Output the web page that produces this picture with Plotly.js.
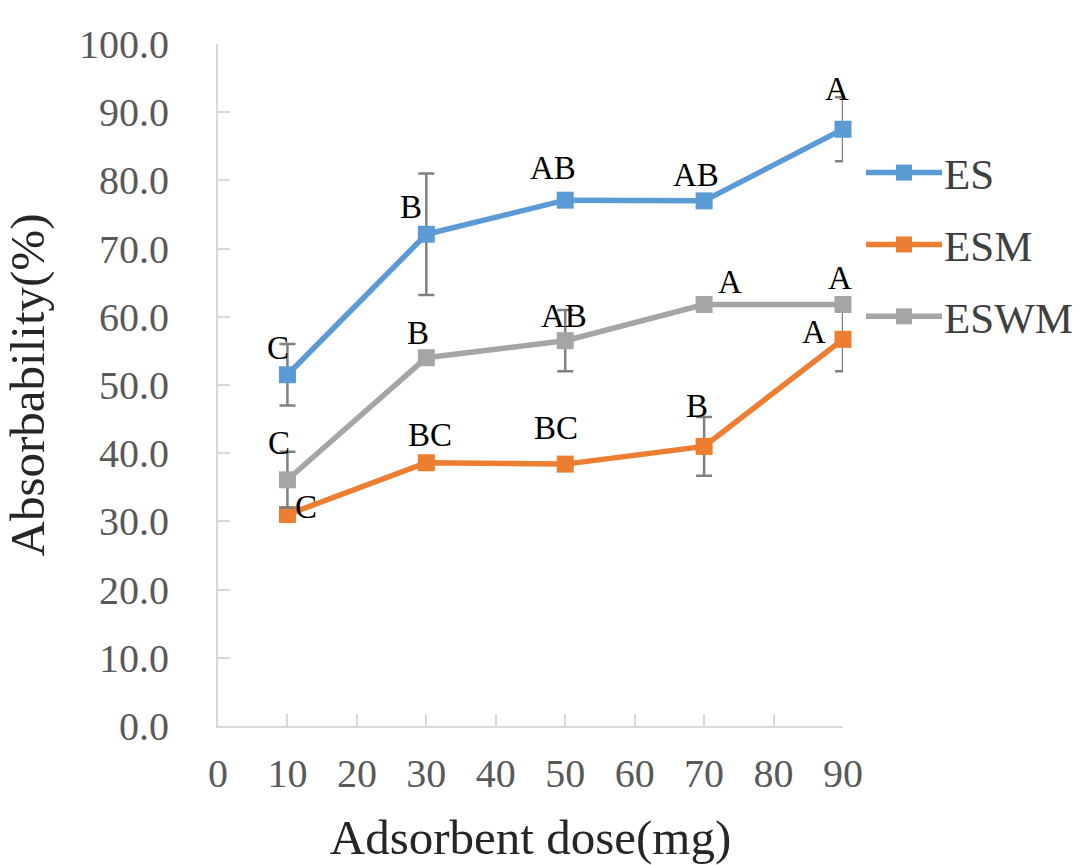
<!DOCTYPE html>
<html>
<head>
<meta charset="utf-8">
<script src="https://cdn.plot.ly/plotly-3.0.1.min.js"></script>
<style>html,body{margin:0;padding:0;background:#fff}#chart{width:1079px;height:865px}</style>
</head>
<body>
<div id="chart"></div>
<script>
// ---- data ----
const doses = [10, 30, 50, 70, 90];
const seriesNames = ['ES', 'ESM', 'ESWM'];
const esVals = [51.5, 72.1, 77.1, 77.0, 87.5];
const esmVals = [31.0, 38.6, 38.4, 41.0, 56.7];
const eswmVals = [36.1, 54.0, 56.5, 61.8, 61.8];
const esErr = [4.5, 8.9, 0, 0, 4.7];
const esmErr = [0, 0, 0, 4.3, 4.7];
const eswmErr = [4.1, 0, 4.5, 0, 0];
const esLetters = ['C', 'B', 'AB', 'AB', 'A'];
const esmLetters = ['C', 'BC', 'BC', 'B', 'A'];
const eswmLetters = ['C', 'B', 'AB', 'A', 'A'];
const xTicks = [0, 10, 20, 30, 40, 50, 60, 70, 80, 90];
const yTicks = [0, 10, 20, 30, 40, 50, 60, 70, 80, 90, 100];

// ---- styling ----
const colors = ['#5B9BD5', '#ED7D31', '#A5A5A5'];
const FONT = '"Liberation Serif", "Times New Roman", serif';
// label pixel offsets (dx, dy downward) relative to each point
const esOff = [[-9,-27],[-15,-27],[-12,-32],[-8,-26],[-6,-40]];
const esmOff = [[19,-8],[4,-28],[-9,-36],[-7,-40],[-29,-7]];
const eswmOff = [[-8,-37],[-8,-25],[-1,-25],[26,-23],[-3,-27]];

const valsList = [esVals, esmVals, eswmVals];
const errList = [esErr, esmErr, eswmErr];
const lettersList = [esLetters, esmLetters, eswmLetters];
const offList = [esOff, esmOff, eswmOff];

const traces = seriesNames.map((name, i) => ({
  type: 'scatter', mode: 'lines+markers', name: name,
  x: doses, y: valsList[i], legendgroup: name,
  line: {color: colors[i], width: 5.5},
  marker: {color: colors[i], symbol: 'square', size: 17},
  error_y: {type: 'data', array: errList[i], visible: true, color: '#808080', thickness: 2.5, width: 8},
  cliponaxis: false, hoverinfo: 'skip'
}));

const annotations = [];
seriesNames.forEach((name, i) => {
  doses.forEach((d, j) => {
    annotations.push({
      x: d, y: valsList[i][j], xref: 'x', yref: 'y', text: lettersList[i][j],
      showarrow: false, xanchor: 'center', yanchor: 'middle',
      xshift: offList[i][j][0], yshift: -offList[i][j][1],
      font: {family: FONT, size: 33, color: '#000'}
    });
  });
});

const layout = {
  width: 1079, height: 865,
  margin: {l: 218, r: 236, t: 44, b: 139, pad: 0, autoexpand: false},
  paper_bgcolor: '#fff', plot_bgcolor: '#fff',
  showlegend: true,
  legend: {
    x: 1.024, xanchor: 'left', y: 0.862, yanchor: 'top',
    font: {family: FONT, size: 43, color: '#404040'},
    itemwidth: 76, traceorder: 'grouped', tracegroupgap: 13,
    bgcolor: 'rgba(0,0,0,0)', borderwidth: 0
  },
  xaxis: {
    range: [0, 90], tickvals: xTicks, ticktext: xTicks.map(String),
    showgrid: false, zeroline: false, showline: true, linecolor: '#d9d9d9', linewidth: 2,
    ticks: 'inside', ticklen: 12, tickcolor: '#d9d9d9', tickwidth: 2,
    tickfont: {family: FONT, size: 40, color: '#595959'}, ticklabelstandoff: 11,
    title: {text: 'Adsorbent dose(mg)', font: {family: FONT, size: 49, color: '#262626'}, standoff: 25},
    automargin: false, fixedrange: true
  },
  yaxis: {
    range: [0, 100], tickvals: yTicks, ticktext: yTicks.map(v => v.toFixed(1)),
    showgrid: false, zeroline: false, showline: true, linecolor: '#d9d9d9', linewidth: 2,
    ticks: 'inside', ticklen: 12, tickcolor: '#d9d9d9', tickwidth: 2,
    tickfont: {family: FONT, size: 40, color: '#595959'}, ticklabelstandoff: 39,
    title: {text: 'Absorbability(%)', font: {family: FONT, size: 49, color: '#262626'}, standoff: 20},
    automargin: false, fixedrange: true
  },
  annotations: annotations
};

Plotly.newPlot('chart', traces, layout, {displayModeBar: false, staticPlot: true}).then(gd => {
  gd.querySelectorAll('.legend .traces').forEach(tr => {
    const t = tr.querySelector('text.legendtext');
    if (!t) return;
    const tx = parseFloat(t.getAttribute('x')) || 0;
    tr.querySelectorAll('.legendlines path').forEach(p => p.setAttribute('d', 'M' + (tx - 78) + ',0h76'));
    tr.querySelectorAll('.legendpoints path').forEach(p => p.setAttribute('transform', 'translate(' + (tx - 40) + ',0)'));
  });
});
</script>
</body>
</html>
